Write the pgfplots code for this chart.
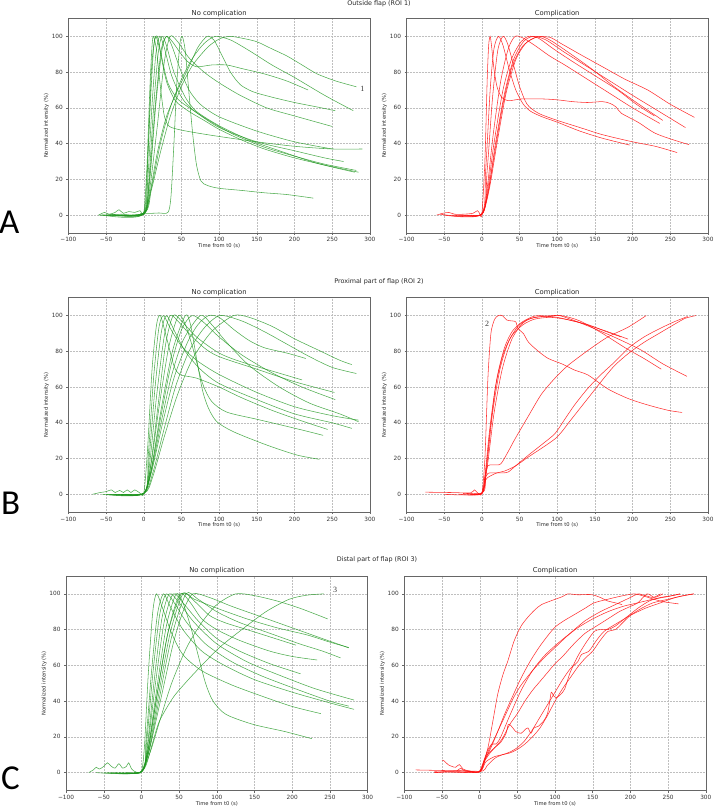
\documentclass[border=0pt]{standalone}
\usepackage{fontspec}
\setmainfont{DejaVu Sans}
\newfontfamily\letterfont{Carlito}
\newfontfamily\seriffont{Liberation Serif}
\usepackage{pgfplots}
\pgfplotsset{compat=1.18}

\definecolor{cg}{RGB}{30,150,30}
\definecolor{cr}{RGB}{255,15,15}

\pgfplotsset{
  panel/.style={
    scale only axis, anchor=south west, width=301.5pt, height=214.5pt,
    xmin=-100, xmax=300, ymin=-10, ymax=110,
    xtick={-100,-50,...,300},
    xticklabels={−100,−50,0,50,100,150,200,250,300},
    ytick={0,20,...,100},
    grid=major,
    grid style={gray!50, line width=0.35pt, dash pattern=on 0.6pt off 0.9pt},
    axis line style={black!60, line width=0.6pt},
    tick align=outside, tick pos=left, major tick length=2pt,
    every tick/.style={black!60, line width=0.5pt},
    ticklabel style={font=\fontsize{5.8}{6}\selectfont, text=black!80},
    xticklabel style={yshift=1pt},
    /pgf/number format/assume math mode=true,
    xlabel={Time from t0 (s)}, ylabel={Normalized intensity (\%)},
    label style={font=\fontsize{5.2}{6}\selectfont, text=black!85},
    xlabel style={yshift=5pt},
    ylabel style={yshift=-4pt},
    every axis title/.style={at={(0.5,1)}, anchor=south, yshift=-1.5pt,
      font=\fontsize{6.8}{7}\selectfont, text=black!85},
    no markers,
    every axis plot/.append style={line width=0.55pt, smooth, tension=0.45},
  },
  gplot/.style={color=cg, opacity=0.78},
  rplot/.style={color=cr, opacity=0.85},
}

\begin{document}
\begin{tikzpicture}
\path[use as bounding box] (0pt,0pt) rectangle (714pt,806pt);

% ---------------- Row A: outside flap ----------------
\node[font=\fontsize{6.4}{7}\selectfont, text=black!85] at (379pt,802pt) {Outside flap (ROI 1)};
\node[font=\letterfont\fontsize{35}{36}\selectfont, anchor=west, inner sep=0pt] at (-1pt,583.5pt) {A};

\begin{axis}[panel, at={(68.4pt,573pt)}, title={No complication}]
\addplot[gplot] coordinates {(-60,0) (-52,1.5) (-46,0.5) (-38,1.5) (-33,3) (-27,1) (-20,2) (-12,1.5) (-5,2.5) (0,1) (4,25) (8,70) (11,95) (13,100) (17,92) (22,72) (27,56) (33,50) (45,48) (70,46) (100,44) (150,41) (200,38.5) (250,37) (290,37)};
\addplot[gplot] coordinates {(-58,0) (-30,0.5) (-1,0.8) (4,20) (9,65) (13,93) (16,100) (21,93) (30,75) (42,64) (60,58) (80,53) (100,48) (130,42) (160,37) (200,32) (240,28) (285,24)};
\addplot[gplot] coordinates {(-50,0) (-1,0.5) (5,18) (11,62) (16,90) (21,100) (27,94) (37,78) (50,66) (65,59) (100,49) (150,41) (200,36) (240,32) (265,30)};
\addplot[gplot] coordinates {(-45,0.5) (0,0.5) (6,15) (13,60) (19,90) (24,100) (30,95) (40,80) (55,66) (70,58) (100,50) (140,42) (180,36) (230,29) (280,24)};
\addplot[gplot] coordinates {(-40,0) (0,1) (7,18) (15,60) (23,92) (30,100) (38,97) (48,91) (58,86) (70,83) (90,84) (110,84) (130,82) (160,79) (190,75) (218,70)};
\addplot[gplot] coordinates {(-35,0) (0,0.5) (8,20) (16,62) (24,92) (30,100) (37,95) (48,82) (60,70) (75,62) (100,55) (150,47) (200,41) (250,37)};
\addplot[gplot] coordinates {(-50,0) (0,1) (8,15) (18,50) (27,85) (35,100) (45,97) (60,88) (80,80) (100,74) (128,67) (163,60) (199,55.6) (250,49.6)};
\addplot[gplot] coordinates {(-5,1) (10,1) (20,1.2) (32,1.5) (36,10) (40,40) (44,75) (48,96) (51,100) (55,92) (60,68) (65,45) (70,28) (76,19) (85,16.5) (100,15) (130,13.8) (160,12.5) (190,11.5) (225,9.5)};
\addplot[gplot] coordinates {(-30,0) (0,1) (8,12) (18,35) (30,55) (45,70) (60,83) (72,94) (84,100) (93,98) (103,90) (115,80) (128,73) (145,69) (170,66) (200,63) (230,60.5) (254,58.4)};
\addplot[gplot] coordinates {(-40,0) (0,0.5) (10,15) (22,40) (35,60) (50,76) (65,88) (80,96) (95,100) (115,98) (140,92) (170,84) (200,77) (240,67) (278,58.4)};
\addplot[gplot] coordinates {(-60,0) (0,1) (10,14) (22,35) (35,55) (50,72) (65,84) (85,94) (100,98.5) (114,100) (130,99) (150,97) (170,93) (190,89) (210,84) (230,79) (255,75) (282,71.8)};
\addplot[gplot] coordinates {(-55,0) (-1,0.5) (5,30) (10,80) (14,97) (18,100) (23,90) (32,74) (45,65) (64,59) (90,52) (120,45) (160,38) (200,33) (240,28.5) (282,25)};
\node[font=\seriffont\fontsize{8}{8}\selectfont, text=black!80] at (axis cs:290,70.5) {1};
\end{axis}

\begin{axis}[panel, at={(406.5pt,573pt)}, title={Complication}]
\addplot[rplot] coordinates {(-60,0) (-52,1) (-44,1.5) (-36,0.5) (-25,0.5) (-12,1) (-6,2.5) (-3,1) (0,0.5) (4,30) (7,75) (9,95) (11,100) (13,94) (16,82) (20,72) (26,66) (35,64) (53,65) (80,65) (100,64.5) (120,63.5) (140,63) (160,63.5) (170,62.5) (178,60.5) (185,57) (207,52) (229,46) (251,42.5) (275,39.4)};
\addplot[rplot] coordinates {(-55,0.5) (-1,0.5) (5,25) (11,70) (16,93) (22,100) (28,95) (36,82) (45,70) (55,62) (65,58) (80,55) (100,52) (130,47) (160,43) (196,39.2)};
\addplot[rplot] coordinates {(-50,0) (0,0.5) (7,25) (14,65) (21,92) (28,100) (34,96) (42,84) (50,72) (60,62) (75,57) (100,53) (130,49) (160,45) (200,41) (230,38.5) (259,35)};
\addplot[rplot] coordinates {(-40,0) (0,0.5) (7,15) (15,45) (25,75) (35,93) (44,100) (55,99) (70,95) (90,89) (110,84) (140,76) (170,68) (200,60) (236,51.3)};
\addplot[rplot] coordinates {(-30,0) (0,0.5) (8,15) (16,40) (28,70) (40,88) (52,97) (62,100) (75,99) (95,93) (120,86) (150,78) (180,70) (205,62) (229,55.5)};
\addplot[rplot] coordinates {(-20,0) (0,0.5) (9,15) (18,40) (30,68) (42,87) (55,97) (68,100) (85,98) (110,91) (140,83) (170,75) (200,67) (235,58) (270,49)};
\addplot[rplot] coordinates {(-25,0) (0,0.5) (10,15) (20,40) (32,68) (45,87) (58,96) (72,99.5) (90,99.5) (105,96) (130,90) (160,83) (190,76) (220,70) (250,62) (282,54.7)};
\addplot[rplot] coordinates {(-15,0) (0,0.5) (8,12) (17,35) (28,62) (40,83) (55,95) (75,100) (90,98) (115,91) (145,82) (175,72) (205,63) (240,53)};
\end{axis}

% ---------------- Row B: proximal part ----------------
\node[font=\fontsize{6.4}{7}\selectfont, text=black!85] at (379pt,524.5pt) {Proximal part of flap (ROI 2)};
\node[font=\letterfont\fontsize{35}{36}\selectfont, anchor=west, inner sep=0pt] at (1pt,303pt) {B};

\begin{axis}[panel, at={(68.4pt,293.8pt)}, title={No complication}]
\addplot[gplot] coordinates {(-68,0) (-58,1) (-50,1.5) (-43,2.5) (-38,1) (-32,2.2) (-27,1) (-22,2.5) (-17,1) (-12,2.5) (-6,1) (0,0.5) (5,25) (11,70) (17,95) (22,100) (30,88) (40,72) (48,67) (70,65) (100,60) (130,54) (170,47) (210,41) (244,36.3)};
\addplot[gplot] coordinates {(-55,0) (0,0.5) (6,22) (13,65) (20,93) (26,100) (35,93) (50,83) (70,75) (100,67) (150,57) (200,49) (250,44) (285,41.5)};
\addplot[gplot] coordinates {(-50,0) (0,0.5) (7,20) (15,60) (23,90) (30,100) (40,92) (55,80) (75,70) (100,62) (150,53) (200,45) (250,40) (276,36.9)};
\addplot[gplot] coordinates {(-45,0) (0,0.5) (8,18) (17,55) (27,88) (35,100) (45,97) (60,90) (80,82) (100,77) (150,70) (200,63) (253,57)};
\addplot[gplot] coordinates {(-40,0) (0,0.5) (9,16) (19,50) (29,84) (39,100) (50,97) (70,88) (100,79) (130,74) (170,69) (210,64)};
\addplot[gplot] coordinates {(-35,0) (0,0.5) (9,15) (20,48) (33,82) (46,100) (55,95) (65,82) (78,62) (90,52) (110,46) (150,42) (200,37) (238,33)};
\addplot[gplot] coordinates {(-30,0) (0,0.5) (10,14) (22,45) (38,80) (55,100) (62,95) (70,76) (78,58) (86,48) (97,40.6) (119,35) (163,27.6) (203,22) (233,19.6)};
\addplot[gplot] coordinates {(-25,0) (0,0.5) (10,14) (22,42) (36,72) (50,92) (64,100) (80,96) (100,88) (130,78) (170,68) (210,60) (254,53)};
\addplot[gplot] coordinates {(-20,0) (0,0.5) (10,13) (22,38) (36,65) (52,86) (75,100) (90,95) (110,85) (140,72) (180,60) (220,51) (260,45) (285,40.6)};
\addplot[gplot] coordinates {(-30,0) (0,0.5) (10,12) (24,38) (40,65) (58,85) (72,95) (86,100) (100,99) (120,92) (140,86) (160,82) (190,79) (215,76)};
\addplot[gplot] coordinates {(-40,0) (0,0.5) (12,12) (26,35) (42,60) (60,80) (80,93) (101,100) (130,97) (160,91) (190,84) (220,77) (250,71) (282,67.6)};
\addplot[gplot] coordinates {(-50,0) (0,0.5) (12,10) (27,32) (45,56) (65,76) (90,91) (119,100) (140,99) (170,94) (200,87) (230,81) (260,75) (276,72.6)};
\end{axis}

\begin{axis}[panel, at={(406.5pt,293.8pt)}, title={Complication}]
\addplot[rplot] coordinates {(-75,1.2) (-40,1) (-15,0.8) (-10,2.5) (-6,1) (0,0.5) (4,20) (8,65) (12,90) (17,98) (22,100) (27,100) (33,97.5) (40,97) (45,96.5) (48,92.7) (55,90) (62,85) (75,80) (88,76) (106,73) (123,69.5) (141,66.7) (167,59) (194,53.6) (220,50) (247,47) (265.6,45.8)};
\addplot[rplot] coordinates {(-50,0) (0,0.5) (5,12) (12,40) (20,65) (30,82) (40,91) (52,96) (65,99) (75,100) (100,99) (130,96) (160,92) (180,89) (194,86.8)};
\addplot[rplot] coordinates {(-30,0) (0,0.5) (6,14) (14,45) (24,70) (35,85) (48,94) (62,98) (80,99.5) (105,100) (130,97) (160,90) (190,82) (215,76) (238,70)};
\addplot[rplot] coordinates {(-20,0.5) (0,0.5) (7,15) (16,45) (27,70) (40,87) (55,96) (70,99) (90,99.5) (103,100) (130,96) (170,89) (210,81) (240,73) (272,66)};
\addplot[rplot] coordinates {(-10,0.5) (0,1) (4,10) (10,35) (18,60) (28,78) (40,89) (55,95) (70,98) (90,99) (110,98) (140,95) (165,91) (185,88)};
\addplot[rplot] coordinates {(-20,0.5) (0,0.5) (4,10) (8,16) (15,16.5) (25,17) (35,24) (44,31) (62,44) (79,56) (97,65) (114,72) (141,80.6) (167,88) (194,93.5) (218,100)};
\addplot[rplot] coordinates {(-15,0.5) (0,0.5) (4,8) (8,11.7) (20,12) (28,12) (35,12.5) (45,16) (62,22) (80,28) (97,34) (110,42) (123,50) (140,59) (158,67) (176,74) (195,82) (215,88) (235,92.5) (255,96.5) (273,99.5)};
\addplot[rplot] coordinates {(-25,0.5) (0,0.5) (5,8) (10,10) (20,12) (30,13) (45,16) (62,21) (80,26) (97,31) (106,35) (115,40) (130,48) (145,56) (160,64) (176,72) (195,79) (215,85) (235,90) (255,95) (270,98.5) (284,100)};
\node[font=\seriffont\fontsize{8}{8}\selectfont, text=black!80] at (axis cs:7,95.5) {2};
\end{axis}

% ---------------- Row C: distal part ----------------
\node[font=\fontsize{6.4}{7}\selectfont, text=black!85] at (377pt,246pt) {Distal part of flap (ROI 3)};
\node[font=\letterfont\fontsize{35}{36}\selectfont, anchor=west, inner sep=0pt] at (1pt,27.5pt) {C};

\begin{axis}[panel, at={(66.1pt,15.5pt)}, title={No complication}]
\addplot[gplot] coordinates {(-70,0) (-64,1.5) (-60,3) (-56,2) (-50,3.5) (-45,5.5) (-40,3.5) (-35,2.5) (-30,5) (-25,2.5) (-20,3.5) (-17,5.5) (-13,2) (-8,0.5) (0,0.5) (4,15) (9,55) (15,90) (20,100) (28,92) (40,78) (55,66) (80,57) (120,49) (165,42) (200,37) (238,33)};
\addplot[gplot] coordinates {(-60,0) (0,0.5) (6,18) (13,55) (21,88) (29,100) (38,93) (55,80) (80,68) (110,60) (150,52) (200,45) (250,39) (282,35.4)};
\addplot[gplot] coordinates {(-50,0) (0,0.5) (7,18) (15,55) (24,88) (33,100) (45,94) (60,84) (85,72) (120,62) (160,54) (210,46) (250,40) (275,37.2)};
\addplot[gplot] coordinates {(-45,0) (0,0.5) (8,16) (17,52) (27,86) (37,100) (50,95) (70,84) (100,72) (140,62) (180,55) (230,47) (282,40.6)};
\addplot[gplot] coordinates {(-40,0) (0,0.5) (8,14) (18,48) (30,84) (42,100) (55,95) (75,85) (100,75) (130,68) (170,61) (211,55.3)};
\addplot[gplot] coordinates {(-35,0) (0,0.5) (9,14) (20,46) (33,82) (46,100) (55,95) (65,82) (75,66) (85,50) (95,40) (112,32.6) (148,27) (190,23) (226,19)};
\addplot[gplot] coordinates {(-30,0) (0,0.5) (9,13) (21,44) (36,80) (51,100) (65,95) (80,86) (100,80) (130,74) (170,68) (200,65) (233,63)};
\addplot[gplot] coordinates {(-25,0) (0,0.5) (10,13) (22,42) (38,78) (55,100) (70,96) (90,88) (110,84) (140,80) (170,76) (205,71.3)};
\addplot[gplot] coordinates {(-20,0) (0,0.5) (10,12) (23,40) (40,76) (59,100) (75,97) (100,90) (130,84) (170,78) (210,72) (240,68) (264,64.2)};
\addplot[gplot] coordinates {(-15,0) (0,0.5) (10,12) (24,38) (42,72) (55,90) (68,100) (90,98) (120,93) (160,87) (200,81) (240,75) (275,69.8)};
\addplot[gplot] coordinates {(-20,0) (0,0.5) (12,12) (25,30) (40,50) (60,70) (80,84) (100,94) (125,100) (150,99) (180,96) (210,92) (247,86)};
\addplot[gplot] coordinates {(-10,0) (0,0.5) (6.6,4.7) (15,17) (24,29) (42,42) (60,51) (77,58.7) (103.5,70) (130,79) (165,90) (196,97) (220,99.3) (242,100)};
\addplot[gplot] coordinates {(-10,0) (0,0.5) (9,13) (20,42) (35,78) (53,100) (70,97) (100,92) (140,86) (180,81) (220,77) (250,73) (275,70)};
\node[font=\seriffont\fontsize{8}{8}\selectfont, text=black!80] at (axis cs:257,102.5) {3};
\end{axis}

\begin{axis}[panel, at={(404.3pt,15.5pt)}, title={Complication}]
\addplot[rplot] coordinates {(-60,0) (-40,0.8) (-20,1) (-10,0.5) (0,0.5) (5,5) (11,14) (18,30) (24,44) (31,55) (37,62) (46,74) (55,82) (64,87) (73,91) (82,94) (99,96.8) (110,98.5) (117,100) (130,99.5) (148,99.6) (160,98) (170,96) (180,95) (189,94)};
\addplot[rplot] coordinates {(-50,7) (-47,6.5) (-42,4.5) (-37,3.5) (-32,3) (-27,4.5) (-22,2) (-15,1) (-8,0.5) (0,0.5) (8,8) (15,14) (24,23) (33,32.6) (44,43) (55,53) (68,63) (82,72) (99,81) (112,85) (126,88.5) (140,92) (152,95) (170,97) (187,98.7) (205,100) (218,98.7) (231,97) (245,95.5) (264,94.4)};
\addplot[rplot] coordinates {(-85,1.5) (-50,1.2) (-20,1) (-5,0.8) (0,1) (5,6) (10,12) (16,16) (22,16) (28,20) (40,32) (55,46) (70,57) (85,65) (100,71) (120,78) (140,85) (160,90) (180,94) (200,98) (210,100) (220,99) (230,98) (240,100)};
\addplot[rplot] coordinates {(-40,0.5) (0,0.5) (8,9) (15,15) (25,24) (35,33) (45,42) (55,49) (70,57) (85,64) (100,70) (115,76) (130,81) (150,86) (170,90) (190,93) (210,95) (230,97) (250,98.5) (266,100)};
\addplot[rplot] coordinates {(-20,1) (0,0.5) (6,6) (12,10) (20,14) (28,17) (35,22) (38,27) (42,26) (48,23) (55,22) (60,24) (64,25) (68,22) (72,25) (78,26) (85,29) (90,33) (93,40) (95,45) (98,43) (102,42) (108,44) (113,47) (120,56) (130,65) (140,72) (152,79) (160,80) (170,80) (180,82) (195,87) (210,92) (225,96) (240,98) (255,99) (266,100)};
\addplot[rplot] coordinates {(-60,0) (-30,0.5) (0,0.5) (8,6) (20,9) (30,10) (40,11.5) (50,14) (60,18) (70,24) (80,31) (90,38) (100,45) (110,52) (120,58) (130,62) (135,66) (145,68) (155,74) (165,79) (180,83) (200,88) (220,92) (240,95) (260,98) (284,100)};
\addplot[rplot] coordinates {(-30,1) (-25,2.5) (-20,1) (0,0.5) (6,7) (12,11) (20,14) (30,19) (40,27) (50,33) (60,40) (70,46) (80,51) (90,56) (100,61) (110,65) (125,72) (140,78) (155,82) (170,86) (185,90) (200,93) (210,95) (222,100) (232,98) (243,100)};
\addplot[rplot] coordinates {(-60,0.5) (0,0.5) (10,4) (20,8) (30,10) (40,11) (50,13) (60,16) (70,20) (80,25) (90,32) (100,40) (110,47) (120,53) (130,59) (140,64) (150,68) (160,74) (170,79) (180,80) (190,84) (200,88) (215,92) (230,95) (250,97) (270,99) (284,100)};
\end{axis}
\end{tikzpicture}
\end{document}
